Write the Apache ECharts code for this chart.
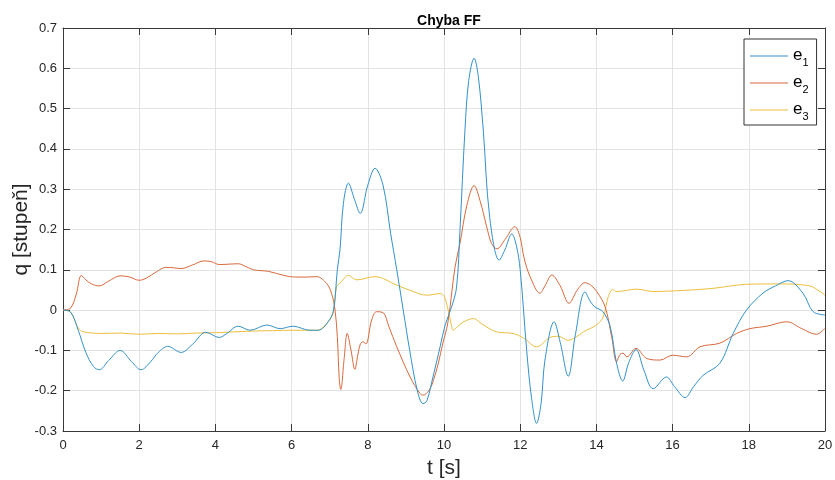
<!DOCTYPE html>
<html>
<head>
<meta charset="utf-8">
<script src="https://cdn.jsdelivr.net/npm/echarts@6/dist/echarts.min.js"></script>
<style>html,body{margin:0;padding:0;background:#fff}#c{width:835px;height:480px}</style>
</head>
<body>
<div id="c"></div>
<script>
// ---- data ----
const title = 'Chyba FF';
const xName = 't [s]';
const yName = 'q [stupeň]';
const seriesNames = ['e1', 'e2', 'e3'];
const xTicks = [0, 2, 4, 6, 8, 10, 12, 14, 16, 18, 20];
const yTicks = [-0.3, -0.2, -0.1, 0, 0.1, 0.2, 0.3, 0.4, 0.5, 0.6, 0.7];

const t1 = [0,0.2,0.4,0.6,0.8,0.95,1.2,1.5,1.8,2.05,2.3,2.5,2.75,3.1,3.4,3.75,4.1,4.3,4.6,4.91,5.35,5.7,6.04,6.48,6.7,6.96,7.1,7.2,7.27,7.36,7.49,7.65,7.8,8.0,8.19,8.4,8.6,8.76,8.93,9.1,9.3,9.45,9.55,9.71,9.9,10.03,10.2,10.33,10.42,10.55,10.65,10.79,10.9,11.03,11.2,11.45,11.6,11.78,11.9,12.0,12.17,12.3,12.43,12.55,12.65,12.89,13.05,13.26,13.45,13.7,13.85,13.96,14.17,14.36,14.53,14.69,14.85,15.04,15.25,15.49,15.84,16.05,16.33,16.55,16.8,17.24,17.59,17.94,18.37,18.7,19.03,19.42,19.69,20];
const e1 = [0,-0.005,-0.05,-0.105,-0.14,-0.148,-0.125,-0.1,-0.128,-0.148,-0.128,-0.105,-0.09,-0.105,-0.085,-0.055,-0.068,-0.058,-0.04,-0.05,-0.037,-0.046,-0.04,-0.05,-0.05,-0.029,0.0,0.1,0.15,0.265,0.315,0.275,0.24,0.31,0.352,0.31,0.19,0.1,0.0,-0.1,-0.2,-0.232,-0.225,-0.166,-0.09,-0.037,0.008,0.057,0.2,0.447,0.57,0.625,0.58,0.447,0.23,0.124,0.15,0.189,0.16,0.1,-0.1,-0.22,-0.281,-0.23,-0.124,-0.029,-0.08,-0.164,-0.06,0.045,0.02,0.008,-0.004,-0.04,-0.132,-0.176,-0.13,-0.098,-0.15,-0.195,-0.166,-0.19,-0.217,-0.19,-0.162,-0.132,-0.058,0.0,0.042,0.06,0.073,0.042,-0.004,-0.012];

const t2 = [0,0.2,0.35,0.48,0.6,0.75,0.95,1.2,1.5,1.75,2.0,2.2,2.45,2.7,2.9,3.1,3.4,3.7,3.9,4.1,4.35,4.6,4.8,5.0,5.4,5.8,6.1,6.4,6.66,6.92,7.05,7.14,7.2,7.25,7.29,7.38,7.46,7.56,7.66,7.74,7.81,7.88,7.95,8.1,8.23,8.41,8.55,8.76,9.11,9.37,9.45,9.6,9.71,9.85,9.97,10.1,10.29,10.42,10.6,10.79,10.95,11.12,11.25,11.39,11.6,11.86,12.0,12.1,12.26,12.52,12.65,12.83,13.05,13.28,13.5,13.7,13.85,14.01,14.23,14.4,14.53,14.62,14.7,14.8,15.04,15.32,15.67,16.0,16.37,16.72,17.24,17.68,18.03,18.47,19.0,19.39,19.78,20];
const e2 = [0,0.005,0.04,0.086,0.075,0.065,0.06,0.072,0.085,0.082,0.074,0.08,0.095,0.106,0.105,0.103,0.112,0.122,0.12,0.113,0.114,0.115,0.108,0.1,0.096,0.086,0.082,0.082,0.083,0.066,0.041,0.0,-0.066,-0.17,-0.197,-0.12,-0.058,-0.1,-0.147,-0.11,-0.083,-0.079,-0.084,-0.025,-0.004,-0.007,-0.04,-0.091,-0.166,-0.207,-0.211,-0.2,-0.178,-0.132,-0.082,-0.032,0.107,0.166,0.26,0.309,0.27,0.207,0.165,0.152,0.175,0.207,0.18,0.13,0.083,0.042,0.06,0.087,0.06,0.017,0.05,0.068,0.062,0.046,0.008,-0.066,-0.128,-0.11,-0.107,-0.116,-0.095,-0.12,-0.124,-0.112,-0.116,-0.091,-0.082,-0.058,-0.046,-0.04,-0.029,-0.046,-0.06,-0.045];

const t3 = [0,0.2,0.35,0.45,0.6,1.0,1.5,2.0,2.5,3.0,3.5,4.0,4.5,5.0,5.5,6.0,6.66,6.96,7.1,7.18,7.3,7.49,7.71,8.19,8.76,9.19,9.55,9.9,10.0,10.1,10.2,10.24,10.33,10.5,10.77,11.0,11.38,11.81,12.1,12.43,12.78,13.0,13.26,13.45,13.66,14.0,14.18,14.31,14.43,14.53,15.06,15.49,16.1,17.06,17.94,18.82,19.6,19.87,20];
const e3 = [0,-0.005,-0.035,-0.05,-0.055,-0.058,-0.057,-0.06,-0.058,-0.059,-0.057,-0.056,-0.054,-0.052,-0.051,-0.05,-0.05,-0.029,-0.004,0.058,0.07,0.086,0.075,0.083,0.062,0.046,0.037,0.041,0.035,0.004,-0.04,-0.05,-0.043,-0.03,-0.021,-0.035,-0.054,-0.058,-0.07,-0.091,-0.068,-0.065,-0.075,-0.068,-0.054,-0.037,-0.017,0.033,0.051,0.046,0.052,0.046,0.048,0.054,0.064,0.065,0.06,0.046,0.037];

const colors = ['#3391c9', '#d8693d', '#ecbf3f'];
// ---- chart ----
const pairs = (t, v) => t.map((x, i) => [x, v[i]]);
const font = 'Liberation Sans, Arial, Helvetica, sans-serif';
const axisCol = '#3a3a3a';
const chart = echarts.init(document.getElementById('c'), null, {renderer: 'canvas'});
const baseX = {
  type: 'value', min: xTicks[0], max: xTicks[xTicks.length - 1], interval: xTicks[1] - xTicks[0],
  axisLine: {show: true, onZero: false, lineStyle: {color: axisCol, width: 1}},
  axisTick: {show: true, inside: true, length: 7, lineStyle: {color: axisCol}},
};
const baseY = {
  type: 'value', min: yTicks[0], max: yTicks[yTicks.length - 1], interval: 0.1,
  axisLine: {show: true, onZero: false, lineStyle: {color: axisCol, width: 1}},
  axisTick: {show: true, inside: true, length: 7, lineStyle: {color: axisCol}},
};
chart.setOption({
  animation: false,
  backgroundColor: '#fff',
  textStyle: {fontFamily: font},
  title: {text: title, left: 444, textAlign: 'center', top: 9,
    textStyle: {fontSize: 14, fontWeight: 'bold', color: '#000', fontFamily: font}},
  grid: {left: 63, right: 10, top: 28, bottom: 49, containLabel: false, outerBoundsMode: 'none'},
  legend: {
    data: seriesNames, orient: 'vertical', left: 744, top: 39,
    padding: [8, 8, 3, 6], itemGap: 6, itemWidth: 38, itemHeight: 1, itemTextGap: 6,
    icon: 'rect', backgroundColor: '#fff', borderColor: '#333', borderWidth: 1,
    formatter: n => '{e|' + n.charAt(0) + '}{s|' + n.slice(1) + '}',
    textStyle: {color: '#000', fontFamily: font, rich: {
      e: {fontSize: 17, verticalAlign: 'top', lineHeight: 18, fontFamily: font, color: '#000'},
      s: {fontSize: 11, verticalAlign: 'top', lineHeight: 12, padding: [10, 0, 0, 0], fontFamily: font, color: '#000'}
    }}
  },
  xAxis: [
    Object.assign({}, baseX, {
      position: 'bottom', name: xName, nameLocation: 'middle', nameGap: 27, nameMoveOverlap: false,
      nameTextStyle: {fontSize: 21, color: '#262626', fontFamily: font},
      axisLabel: {show: true, margin: 8, fontSize: 13, color: '#262626', fontFamily: font},
      splitLine: {show: true, lineStyle: {color: '#e3e3e3', width: 1}}
    }),
    Object.assign({}, baseX, {position: 'top', axisLabel: {show: false}, splitLine: {show: false}})
  ],
  yAxis: [
    Object.assign({}, baseY, {
      position: 'left', name: yName, nameLocation: 'middle', nameGap: 31, nameMoveOverlap: false,
      nameTextStyle: {fontSize: 21, color: '#262626', fontFamily: font},
      axisLabel: {show: true, margin: 6, fontSize: 13, color: '#262626', fontFamily: font,
        formatter: v => (Math.abs(v) < 1e-9 ? '0' : v.toFixed(1))},
      splitLine: {show: true, lineStyle: {color: '#e3e3e3', width: 1}}
    }),
    Object.assign({}, baseY, {position: 'right', axisLabel: {show: false}, splitLine: {show: false}})
  ],
  series: [
    {name: seriesNames[0], type: 'line', data: pairs(t1, e1), smooth: 0.35, showSymbol: false,
      lineStyle: {width: 1, color: colors[0]}, itemStyle: {color: colors[0]}, z: 3},
    {name: seriesNames[1], type: 'line', data: pairs(t2, e2), smooth: 0.35, showSymbol: false,
      lineStyle: {width: 1, color: colors[1]}, itemStyle: {color: colors[1]}, z: 2},
    {name: seriesNames[2], type: 'line', data: pairs(t3, e3), smooth: 0.35, showSymbol: false,
      lineStyle: {width: 1, color: colors[2]}, itemStyle: {color: colors[2]}, z: 1}
  ]
});
</script>
</body>
</html>
